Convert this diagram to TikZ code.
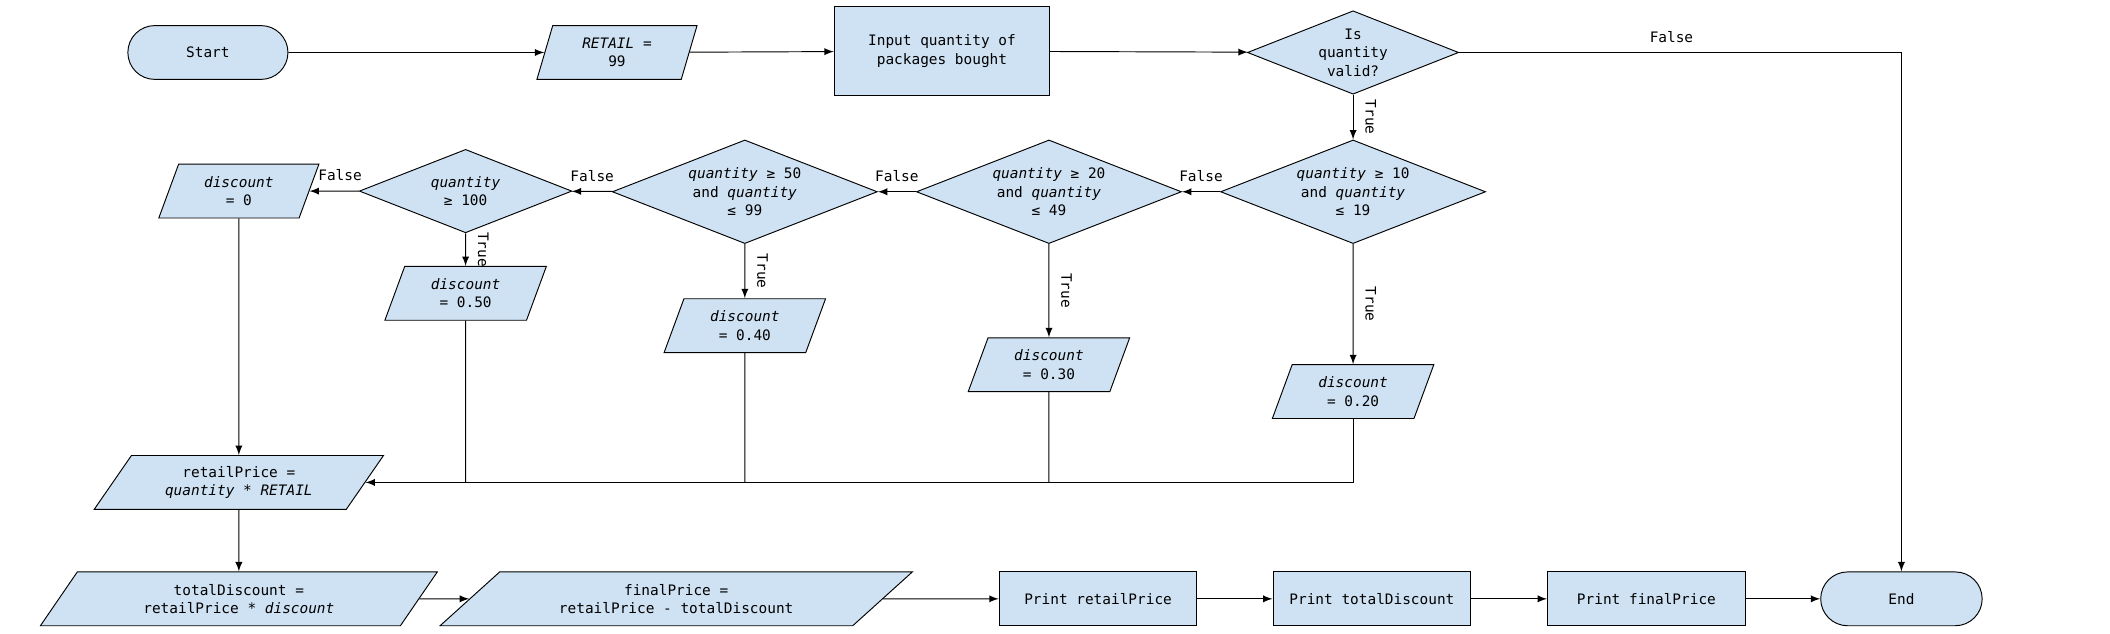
\documentclass[tikz,border=0pt]{standalone}
\usepackage{fontspec}
\setmonofont{DejaVu Sans Mono}
\usetikzlibrary{shapes.geometric}
\definecolor{boxfill}{HTML}{CFE2F3}
\tikzset{
    base/.style={draw, fill=boxfill, align=center, inner sep=1pt,
        font=\ttfamily\fontsize{6.1}{7.8}\selectfont},
    terminal/.style={base, rectangle, rounded corners=0.4cm, minimum width=2.38cm, minimum height=0.8cm},
    process/.style={base, rectangle, minimum width=2.94cm, minimum height=0.8cm},
    decision/.style={base, diamond, shape aspect=2.5, inner sep=0pt, minimum width=3.94cm, minimum height=1.54cm},
    io/.style={base, trapezium, trapezium left angle=#1, trapezium right angle=180-#1,
        trapezium stretches body, minimum height=0.8cm},
    lbl/.style={font=\ttfamily\fontsize{6.1}{8}\selectfont, inner xsep=3pt, inner ysep=4pt},
    truelbl/.style={lbl, midway, rotate=-90, anchor=south, inner ysep=5pt}
}

\begin{document}
\begin{tikzpicture}[x=0.02cm, y=-0.02cm, >=latex]
          \useasboundingbox (0,0) rectangle (1568,471);
          \node[terminal] (start) at (154.5,39) {Start};
          \node[io=65, minimum width=2.38cm] (retail99) at (458.5,39) {\textit{RETAIL} =\\99};
          \node[process, minimum width=3.2cm, minimum height=1.32cm] (input) at (700,38) {Input quantity of\\packages bought};
          \node[decision, minimum width=3.14cm, minimum height=1.24cm] (valid) at (1005.5,39) {Is\\quantity\\valid?};
          \node[decision] (dq10) at (1005.5,142.5) {\textit{quantity} ≥ 10\\and \textit{quantity}\\≤ 19};
          \node[decision] (dq20) at (779.5,142.5) {\textit{quantity} ≥ 20\\and \textit{quantity}\\≤ 49};
          \node[decision] (dq50) at (553.5,142.5) {\textit{quantity} ≥ 50\\and \textit{quantity}\\≤ 99};
          \node[decision, minimum width=3.16cm, minimum height=1.24cm] (dq100) at (346,142) {\textit{quantity}\\≥ 100};
          \node[io=60, minimum width=2.38cm] (disc0) at (177.5,142) {\textit{discount}\\= 0};
          \node[io=60, minimum width=2.4cm] (disc50) at (346,218) {\textit{discount}\\= 0.50};
          \node[io=60, minimum width=2.4cm] (disc40) at (553.5,242) {\textit{discount}\\= 0.40};
          \node[io=60, minimum width=2.4cm] (disc30) at (779.5,271) {\textit{discount}\\= 0.30};
          \node[io=60, minimum width=2.4cm] (disc20) at (1005.5,291) {\textit{discount}\\= 0.20};
          \node[io=45, minimum width=4.3cm] (retail) at (177.5,358.5) {retailPrice =\\\textit{quantity} * \textit{RETAIL}};
          \node[io=43, minimum width=5.9cm] (total) at (177.5,445) {totalDiscount =\\retailPrice * \textit{discount}};
          \node[io=30, minimum width=7.02cm] (final) at (502.5,445) {finalPrice =\\retailPrice - totalDiscount};
          \node[process] (prRetail) at (816,445) {Print retailPrice};
          \node[process] (prTotal) at (1019.5,445) {Print totalDiscount};
          \node[process] (prFinal) at (1223.5,445) {Print finalPrice};
          \node[terminal, minimum width=2.4cm] (end) at (1413,445) {End};

          \draw[->] (start) -- (retail99);
          \draw[->] (retail99) -- (input);
          \draw[->] (input) -- (valid);
          \draw[->] (valid) -| (end) node[lbl, pos=0.24, above] {False};
          \draw[->] (valid) -- (dq10) node[truelbl] {True};
          \draw[->] (dq10) -- (dq20) node[lbl, midway, above] {False};
          \draw[->] (dq20) -- (dq50) node[lbl, midway, above] {False};
          \draw[->] (dq50) -- (dq100) node[lbl, midway, above] {False};
          \draw[->] (dq100) -- (disc0) node[lbl, pos=0.38, above] {False};
          \draw[->] (dq10) -- (disc20) node[truelbl] {True};
          \draw[->] (dq20) -- (disc30) node[truelbl] {True};
          \draw[->] (dq50) -- (disc40) node[truelbl] {True};
          \draw[->] (dq100) -- (disc50) node[truelbl] {True};
          \draw[->] (disc0) -- (retail);
          \draw[->] (disc20) |- (retail);
          \draw (disc30) -- (disc30 |- retail);
          \draw (disc40) -- (disc40 |- retail);
          \draw (disc50) -- (disc50 |- retail);
          \draw[->] (retail) -- (total);
          \draw[->] (total) -- (final);
          \draw[->] (final) -- (prRetail);
          \draw[->] (prRetail) -- (prTotal);
          \draw[->] (prTotal) -- (prFinal);
          \draw[->] (prFinal) -- (end);
\end{tikzpicture}
\end{document}
